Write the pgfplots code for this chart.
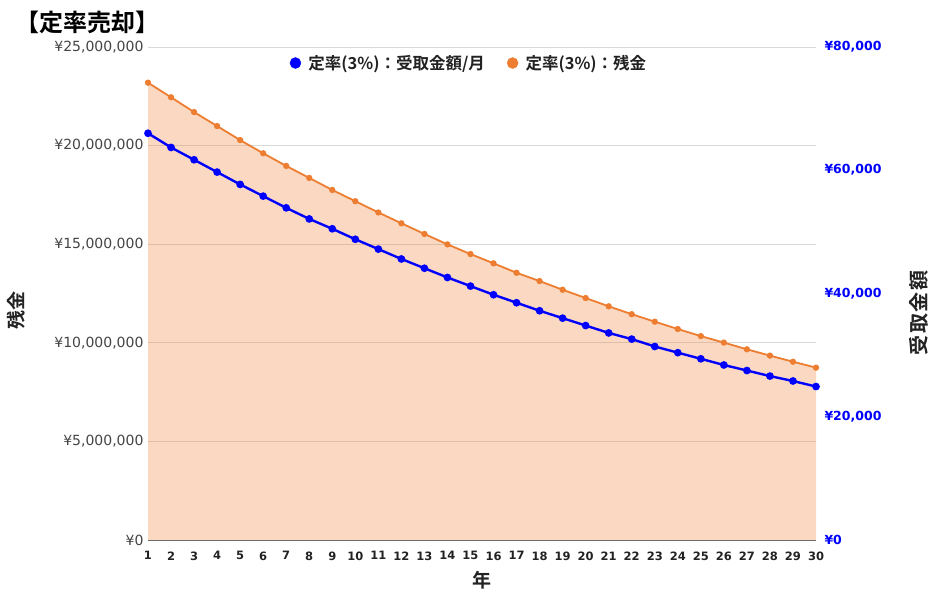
\documentclass[border=0pt]{standalone}
\usepackage{fontspec}
\usepackage{pgfplots}
\usepackage{pgfplotstable}
\pgfplotsset{compat=1.18}
\setmainfont{Noto Sans CJK JP}[BoldFont={Noto Sans CJK JP Bold}]
\newfontfamily\dv{DejaVu Sans}
\definecolor{orC}{HTML}{ED7D31}
\definecolor{blC}{HTML}{0000FF}
\definecolor{gridC}{HTML}{D9D9D9}
\definecolor{tickC}{HTML}{444444}
\definecolor{labC}{HTML}{222222}

% year, balance (yen), monthly payout (yen)
\pgfplotstableread{
year zan uke
1 23190000 66000
2 22450000 63700
3 21700000 61700
4 20990000 59700
5 20280000 57700
6 19610000 55800
7 18970000 53900
8 18360000 52100
9 17750000 50500
10 17180000 48800
11 16610000 47200
12 16060000 45600
13 15520000 44100
14 14990000 42600
15 14500000 41200
16 14030000 39800
17 13550000 38500
18 13130000 37200
19 12690000 36000
20 12270000 34800
21 11850000 33600
22 11450000 32600
23 11070000 31400
24 10700000 30400
25 10340000 29400
26 10010000 28400
27 9670000 27500
28 9350000 26600
29 9040000 25800
30 8740000 24900
}\data

\begin{document}
\begin{tikzpicture}
\useasboundingbox (0bp,0bp) rectangle (934bp,600bp);
\node[anchor=west, inner sep=0pt, font=\fontsize{24bp}{26bp}\selectfont\bfseries] at (15bp,578bp) {【定率売却】};

\begin{axis}[
  at={(148bp,60bp)}, anchor=south west, scale only axis,
  width=668bp, height=493bp,
  xmin=1, xmax=30, ymin=0, ymax=25000000,
  scaled y ticks=false,
  axis lines*=left,
  x axis line style={draw=gray!85!black, line width=0.9bp},
  y axis line style={draw=none},
  major tick length=0,
  xtick={1,2,...,30},
  /pgf/number format/assume math mode=true,
  xticklabel style={font=\dv\bfseries\fontsize{11.5bp}{13bp}\selectfont, text=labC, yshift=-8bp},
  ytick={0,5000000,10000000,15000000,20000000,25000000},
  yticklabels={¥0,{¥5,000,000},{¥10,000,000},{¥15,000,000},{¥20,000,000},{¥25,000,000}},
  yticklabel style={font=\dv\fontsize{14bp}{16bp}\selectfont, text=tickC, xshift=-1bp},
  ymajorgrids, grid style={gridC, line width=0.9bp},
  xlabel={年}, ylabel={残金},
  xlabel style={at={(rel axis cs:0.5,-0.0811)}, anchor=center, font=\bfseries\fontsize{19bp}{21bp}\selectfont, text=labC},
  ylabel style={at={(rel axis cs:-0.1976,0.4665)}, anchor=center, font=\bfseries\fontsize{19bp}{21bp}\selectfont, text=labC},
]
\addplot[draw=none, fill=orC, fill opacity=0.3] table[x=year, y=zan] {\data} \closedcycle;
\addplot[orC, line width=1.8bp, mark=*, mark size=2.2bp] table[x=year, y=zan] {\data};
\end{axis}

\begin{axis}[
  at={(148bp,60bp)}, anchor=south west, scale only axis,
  width=668bp, height=493bp,
  xmin=1, xmax=30, ymin=0, ymax=80000,
  scaled y ticks=false,
  axis x line=none, axis y line*=right,
  y axis line style={draw=none},
  major tick length=0,
  ytick={0,20000,40000,60000,80000},
  yticklabels={¥0,{¥20,000},{¥40,000},{¥60,000},{¥80,000}},
  yticklabel style={font=\dv\bfseries\fontsize{12.5bp}{14bp}\selectfont, text=blC, xshift=5bp},
  ylabel={受\hspace{1.5bp}取\hspace{1.5bp}金\hspace{1.5bp}額},
  every axis y label/.style={at={(rel axis cs:1.1534,0.4604)}, anchor=center, rotate=90, font=\bfseries\fontsize{20bp}{22bp}\selectfont, text=labC},
  legend columns=2,
  legend style={at={(0.4805,0.9675)}, anchor=center, draw=none, fill=none,
    font=\bfseries\fontsize{16.5bp}{19bp}\selectfont, text=labC,
    /tikz/every even column/.append style={column sep=20bp}},
]
\addplot[blC, line width=2.4bp, mark=*, mark size=2.6bp, forget plot] table[x=year, y=uke] {\data};
\addlegendimage{legend image code/.code={\fill[blC] (0,0) circle (5.5bp); \path[draw=none, fill=none] (-5.5bp,-1bp) rectangle (11bp,1bp);}}
\addlegendentry{定率(3\%)：受取金額/月}
\addlegendimage{legend image code/.code={\fill[orC] (0,0) circle (5.5bp); \path[draw=none, fill=none] (-5.5bp,-1bp) rectangle (11bp,1bp);}}
\addlegendentry{定率(3\%)：残金}
\end{axis}
\end{tikzpicture}
\end{document}
